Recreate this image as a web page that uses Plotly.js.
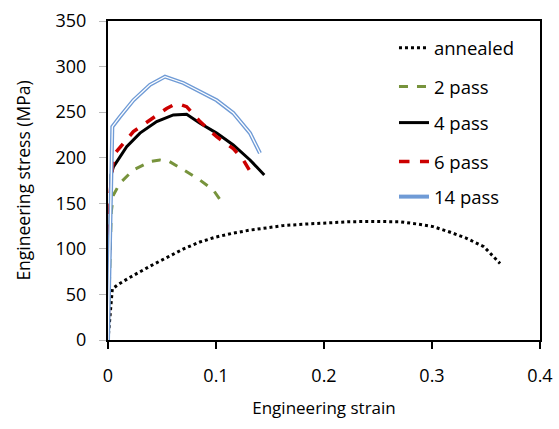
<!DOCTYPE html>
<html>
<head>
<meta charset="utf-8">
<script src="https://cdn.plot.ly/plotly-3.0.1.min.js"></script>
<style>html,body{margin:0;padding:0;background:#fff;}#chart{width:559px;height:429px;}</style>
</head>
<body>
<div id="chart"></div>
<script>
// Engineering strain / stress (MPa)
const annealedX = [0, 0.001, 0.002, 0.003, 0.004, 0.0095, 0.020, 0.039, 0.055, 0.070, 0.085, 0.100, 0.115, 0.131, 0.147, 0.162, 0.180, 0.193, 0.210, 0.224, 0.240, 0.255, 0.270, 0.286, 0.301, 0.317, 0.332, 0.348, 0.363];
const annealedY = [0, 15, 30, 45, 56, 61, 68.5, 81, 91, 100, 107.5, 113, 117, 120.5, 123, 125.5, 127, 128, 129, 129.8, 130, 130, 129.8, 127.3, 124.4, 118.2, 111.6, 102.4, 84];

const pass2X = [0, 0.003, 0.005, 0.011, 0.0235, 0.039, 0.048, 0.057, 0.070, 0.085, 0.0975, 0.105];
const pass2Y = [0, 140, 159, 172, 186.6, 195.7, 197.5, 195.7, 186.6, 175.6, 164.6, 151.8];

const pass4X = [0, 0.002, 0.0028, 0.005, 0.0173, 0.0296, 0.0451, 0.0605, 0.0728, 0.0852, 0.1006, 0.116, 0.1315, 0.1447];
const pass4Y = [0, 150, 181, 190, 212, 227, 239.6, 247, 247.7, 237.8, 227, 214, 197.5, 181];

const pass6X = [0, 0.002, 0.004, 0.0065, 0.0235, 0.0389, 0.0543, 0.0636, 0.0728, 0.0852, 0.1006, 0.116, 0.1253, 0.1346];
const pass6Y = [0, 160, 190, 205, 228.6, 241, 254, 259.7, 256, 239.6, 223, 210, 197.5, 179];

const pass14X = [0, 0.003, 0.004, 0.0111, 0.0235, 0.0389, 0.0528, 0.0697, 0.0852, 0.1006, 0.116, 0.1315, 0.1407];
const pass14Y = [0, 200, 234, 245, 263, 280, 289, 282, 272.5, 263, 249, 227, 205];

const xTicks = [0, 0.1, 0.2, 0.3, 0.4];
const xTickText = ["0", "0.1", "0.2", "0.3", "0.4"];
const yTicks = [0, 50, 100, 150, 200, 250, 300, 350];

const FONT = "Open Sans, sans-serif";

const traces = [
  {x: annealedX, y: annealedY, name: "annealed", mode: "lines", line: {color: "#000000", width: 3, dash: "dot"}, legend: "legend"},
  {x: pass2X, y: pass2Y, name: "2 pass", mode: "lines", line: {color: "#77933c", width: 3, dash: "dash"}, legend: "legend2"},
  {x: pass4X, y: pass4Y, name: "4 pass", mode: "lines", line: {color: "#000000", width: 3}, legend: "legend3"},
  {x: pass6X, y: pass6Y, name: "6 pass", mode: "lines", line: {color: "#cc0000", width: 3.5, dash: "dash"}, legend: "legend4"},
  {x: pass14X, y: pass14Y, name: "14 pass", mode: "lines", line: {color: "#6f9bd6", width: 4}, legend: "legend5"},
  {x: pass14X, y: pass14Y, name: "14 pass", mode: "lines", line: {color: "#ffffff", width: 1.3}, showlegend: false, hoverinfo: "skip"}
];

function leg(y) {
  return {x: 0.662, y: y, xanchor: "left", yanchor: "middle", bgcolor: "rgba(0,0,0,0)",
          font: {family: FONT, size: 18.5, color: "#000"}, itemwidth: 30, tracegroupgap: 0};
}

const layout = {
  width: 559, height: 429,
  margin: {l: 108, r: 19, t: 21, b: 89},
  paper_bgcolor: "#ffffff", plot_bgcolor: "#ffffff",
  font: {family: FONT, size: 17, color: "#000"},
  showlegend: true,
  legend: leg(0.915),
  legend2: leg(0.793),
  legend3: leg(0.680),
  legend4: leg(0.558),
  legend5: leg(0.448),
  xaxis: {
    range: [0, 0.4], tickvals: xTicks, ticktext: xTickText,
    showgrid: false, zeroline: false,
    showline: true, linecolor: "#000", linewidth: 2, mirror: true,
    ticks: "outside", ticklen: 7, tickwidth: 1.5, tickcolor: "#000",
    ticklabelstandoff: 11,
    tickfont: {family: FONT, size: 18, color: "#000"},
    title: {text: "Engineering strain", font: {family: FONT, size: 17, color: "#000"}, standoff: 17}
  },
  yaxis: {
    range: [0, 350], tickvals: yTicks,
    showgrid: false, zeroline: false,
    showline: true, linecolor: "#000", linewidth: 2, mirror: true,
    ticks: "outside", ticklen: 7, tickwidth: 1, tickcolor: "#bbbbbb",
    ticklabelstandoff: 9,
    tickfont: {family: FONT, size: 18, color: "#000"},
    title: {text: "Engineering stress (MPa)", font: {family: FONT, size: 17.5, color: "#000"}, standoff: 20}
  }
};

Plotly.newPlot("chart", traces, layout, {displayModeBar: false, staticPlot: true});
</script>
</body>
</html>
